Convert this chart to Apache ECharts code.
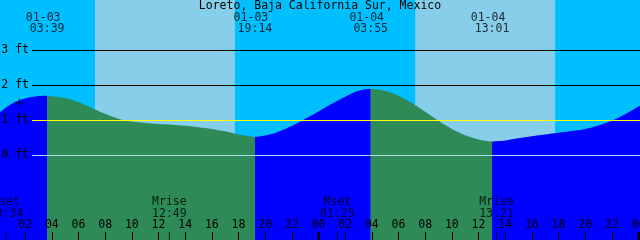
<!DOCTYPE html>
<html>
<head>
<meta charset="utf-8">
<script src="https://cdn.jsdelivr.net/npm/echarts@6/dist/echarts.min.js"></script>
<style>html,body{margin:0;padding:0;background:#00BFFF;}#c{width:640px;height:240px;}</style>
</head>
<body>
<div id="c"></div>
<script>
// ---- data (hours counted from 01-03 00:00 local) ----
const titleText = 'Loreto, Baja California Sur, Mexico';
const tideHours = [-1,0,1,2,3,3.65,5,6,7,8,9,10,11,12,13,14,15,16,17,18,19.233,20,21,22,23,24,25,26,27,27.917,29,30,31,32,33,34,35,36,37.017,38,39,40,41,42,43,44,45,46,47,48,49];
const tideFeet  = [0.88,1.20,1.48,1.63,1.70,1.71,1.64,1.52,1.36,1.19,1.05,0.97,0.93,0.90,0.88,0.85,0.81,0.76,0.69,0.60,0.53,0.57,0.68,0.84,1.05,1.26,1.48,1.68,1.85,1.91,1.85,1.71,1.50,1.25,0.99,0.76,0.58,0.46,0.40,0.43,0.49,0.55,0.60,0.65,0.70,0.76,0.86,0.99,1.18,1.40,1.62];
const extremeHours = [3.65, 19.233, 27.917, 37.017];
const extremeDates = ['01-03', '01-03', '01-04', '01-04'];
const extremeTimes = ['03:39', '19:14', '03:55', '13:01'];
const sunriseHours = [7.233, 31.25];
const sunsetHours  = [17.733, 41.75];
const moonHours = [0.567, 12.817, 25.417, 37.35];
const moonKinds = ['Mset', 'Mrise', 'Mset', 'Mrise'];
const moonTimes = ['00:34', '12:49', '01:25', '13:21'];
const tickHours = [0,2,4,6,8,10,12,14,16,18,20,22,24,26,28,30,32,34,36,38,40,42,44,46,48];
const tickLabels = ['00','02','04','06','08','10','12','14','16','18','20','22','00','02','04','06','08','10','12','14','16','18','20','22','00'];
const midnightHours = [0, 24, 48];
const levelFeet = [0, 1, 2, 3];
const levelNames = ['0 ft', '1 ft', '2 ft', '3 ft'];
const levelColors = ['#a8dcf0', '#ffff00', '#000000', '#000000'];
const markHour = [1.56];
const markFeet = [1.51];

// ---- layout ----
const PX_PER_H = 13.333, X0 = -1.5;           // pixel of hour 0
const PX_PER_FT = 35, Y0 = 155.5;             // pixel of 0 ft
const yMax = Y0 / PX_PER_FT, yMin = (Y0 - 240) / PX_PER_FT;
const xMin = (0 - X0) / PX_PER_H, xMax = (640 - X0) / PX_PER_H;
const ftAt = px => (Y0 - px) / PX_PER_FT;
const hAt = px => (px - X0) / PX_PER_H;
const FONT = 'DejaVu Sans Mono';
const FS = 11.5;

const chart = echarts.init(document.getElementById('c'), null, {renderer: 'canvas'});

// split tide into flood / ebb segments between extremes
const bounds = [tideHours[0], ...extremeHours, tideHours[tideHours.length - 1]];
const tidePts = tideHours.map((h, i) => [h, tideFeet[i]]);
const segSeries = [];
for (let s = 0; s < bounds.length - 1; s++) {
  const a = bounds[s], b = bounds[s + 1];
  const pts = tidePts.filter(p => p[0] >= a && p[0] <= b);
  const rising = pts[pts.length - 1][1] > pts[0][1];
  segSeries.push({
    type: 'line', data: pts, smooth: 0.35, symbol: 'none', z: 3,
    lineStyle: {width: 0}, clip: true,
    areaStyle: {color: rising ? '#0000ff' : '#2e8b57', opacity: 1, origin: 'start'}
  });
}

const txtLabel = (fmt, extra) => Object.assign({
  show: true, position: 'inside', formatter: fmt, color: '#000',
  fontFamily: FONT, fontSize: FS, align: 'center', verticalAlign: 'middle'
}, extra || {});
const invisible = {symbol: 'circle', symbolSize: 0.1, itemStyle: {color: 'rgba(0,0,0,0)'}};

const option = {
  backgroundColor: '#00BFFF',
  animation: false,
  title: {text: titleText, left: 'center', top: 0, padding: 0,
    textStyle: {fontFamily: FONT, fontSize: FS, fontWeight: 'normal', color: '#000'}},
  grid: {left: 0, right: 0, top: 0, bottom: 0, containLabel: false, outerBoundsMode: 'none'},
  xAxis: {type: 'value', min: xMin, max: xMax, z: 10, position: 'bottom',
    axisLine: {show: false, onZero: false}, splitLine: {show: false},
    axisTick: {show: true, inside: true, length: 8, customValues: tickHours,
      lineStyle: {color: '#000', width: 1}},
    axisLabel: {show: true, inside: true, margin: 9, color: '#000', fontFamily: FONT, fontSize: FS,
      customValues: tickHours, showMinLabel: true, showMaxLabel: true, hideOverlap: false,
      formatter: v => tickLabels[tickHours.indexOf(Math.round(v))] || ''}},
  yAxis: {type: 'value', min: yMin, max: yMax, show: false},
  series: [
    {type: 'line', data: [], z: 1, symbol: 'none',
      markArea: {silent: true, itemStyle: {color: '#87CEEB'},
        data: sunriseHours.map((h, i) => [{xAxis: h}, {xAxis: sunsetHours[i]}])}},
    ...segSeries,
    {type: 'scatter', z: 5,
      data: markHour.map((h, i) => [h, markFeet[i]]),
      symbol: 'path://M0,4h9v1h-9zM4,0h1v9h-1z', symbolSize: [9, 9],
      itemStyle: {color: '#000'},
      markLine: {silent: true, symbol: ['none', 'none'],
        data: levelFeet.map((v, i) => [
          {name: levelNames[i], coord: [hAt(32), v],
            lineStyle: {color: levelColors[i], type: 'solid', width: 1, opacity: 1}},
          {coord: [xMax, v]}]),
        label: {show: true, position: 'start', distance: 3, formatter: '{b}', color: '#000',
          fontFamily: FONT, fontSize: FS}}},
    {type: 'scatter', z: 6, ...invisible,
      data: extremeHours.map((h, i) => ({value: [h, ftAt(18)], name: extremeDates[i]})),
      label: txtLabel('{b}', {offset: [-4, 0]})},
    {type: 'scatter', z: 6, ...invisible,
      data: extremeHours.map((h, i) => ({value: [h, ftAt(29.5)], name: extremeTimes[i]})),
      label: txtLabel('{b}')},
    {type: 'scatter', z: 6, ...invisible,
      data: moonHours.map((h, i) => ({value: [h, ftAt(202.5)], name: moonKinds[i]})),
      label: txtLabel('{b}')},
    {type: 'scatter', z: 6, ...invisible,
      data: moonHours.map((h, i) => ({value: [h, ftAt(214)], name: moonTimes[i]})),
      label: txtLabel('{b}')},
    {type: 'scatter', z: 6, symbol: 'rect', symbolSize: [1, 8], symbolOffset: [0, -4],
      itemStyle: {color: '#000'}, data: moonHours.map(h => [h, yMin])},
    {type: 'scatter', z: 6, symbol: 'rect', symbolSize: [3, 8], symbolOffset: [0, -4],
      itemStyle: {color: '#000'}, data: midnightHours.map(h => [h, yMin])}
  ]
};
chart.setOption(option);
</script>
</body>
</html>
